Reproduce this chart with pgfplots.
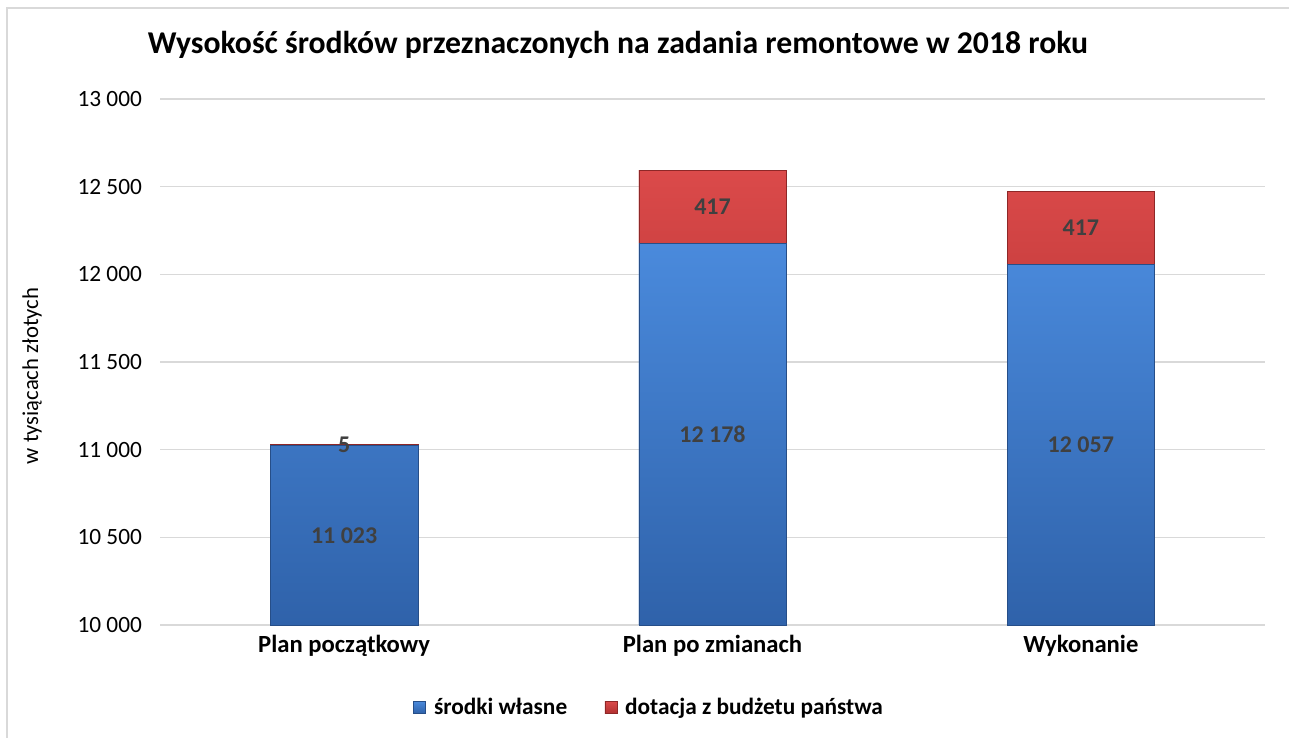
\documentclass[border=0pt]{standalone}
\usepackage{pgfplots}
\pgfplotsset{compat=1.18}
\usepackage{fontspec}
\setmainfont{Carlito}
\definecolor{blueT}{HTML}{4A8ADC}
\definecolor{blueB}{HTML}{2F62AA}
\definecolor{blueM}{HTML}{3C78C8}
\definecolor{redT}{HTML}{DB4A4A}
\definecolor{redB}{HTML}{B23131}
\definecolor{redM}{HTML}{C83C3C}
\definecolor{gridc}{HTML}{D9D9D9}
\definecolor{lab}{HTML}{404040}
\begin{document}
\begin{tikzpicture}[x=0.75pt,y=0.75pt]
\path[use as bounding box] (0,0) rectangle (1289,738);
\draw[gridc,line width=1.5pt] (7,0) -- (7,730) -- (1289,730);
\node[font=\bfseries\fontsize{23.8}{26}\selectfont,anchor=center] at (618,693) {Wysokość środków przeznaczonych na zadania remontowe w 2018 roku};
\node[rotate=90,font=\fontsize{17}{19}\selectfont,anchor=center] at (32,362) {w tysiącach złotych};
\begin{axis}[
  at={(120pt,84.75pt)}, anchor=south west,
  scale only axis, width=828.75pt, height=394.5pt,
  ybar stacked, bar width=0.40,
  xmin=-0.5, xmax=2.5, ymin=10000, ymax=13000,
  ytick={10000,10500,...,13000},
  scaled y ticks=false,
  yticklabel={\pgfmathprintnumber[fixed,precision=0,1000 sep={\ },assume math mode=true]{\tick}},
  xtick=data, xticklabels={Plan początkowy,Plan po zmianach,Wykonanie},
  axis line style={draw=none}, tick style={draw=none},
  ymajorgrids, grid style={gridc,line width=1.2pt},
  yticklabel style={font=\fontsize{17.5}{19}\selectfont,text=black,xshift=-10pt},
  xticklabel style={font=\bfseries\fontsize{18.5}{20}\selectfont,text=black,yshift=-4pt},
  legend style={at={(0.443,-0.156)},anchor=center,draw=none,font=\bfseries\fontsize{17.5}{19}\selectfont,legend columns=2,/tikz/every even column/.append style={column sep=26pt}},
  legend image code/.code={\fill[#1] (0pt,-4.5pt) rectangle (9pt,4.5pt); \path (13pt,0pt);},
  clip=false,
  after end axis/.append code={
    \node[font=\bfseries\fontsize{18}{20}\selectfont,text=lab] at (axis cs:0,10511.5) {11 023};
    \node[font=\bfseries\fontsize{18}{20}\selectfont,text=lab] at (axis cs:1,11089) {12 178};
    \node[font=\bfseries\fontsize{18}{20}\selectfont,text=lab] at (axis cs:2,11028.5) {12 057};
    \node[font=\bfseries\fontsize{18}{20}\selectfont,text=lab] at (axis cs:0,11025.5) {5};
    \node[font=\bfseries\fontsize{18}{20}\selectfont,text=lab] at (axis cs:1,12386.5) {417};
    \node[font=\bfseries\fontsize{18}{20}\selectfont,text=lab] at (axis cs:2,12265.5) {417};
  },
]
\addplot[fill=blueM, top color=blueT, bottom color=blueB, draw=blueB!80!black, line width=0.4pt] coordinates {(0,11023) (1,12178) (2,12057)};
\addplot[fill=redM, top color=redT, bottom color=redB, draw=redB!80!black, line width=0.4pt] coordinates {(0,5) (1,417) (2,417)};
\legend{środki własne, dotacja z budżetu państwa}
\end{axis}
\end{tikzpicture}
\end{document}
